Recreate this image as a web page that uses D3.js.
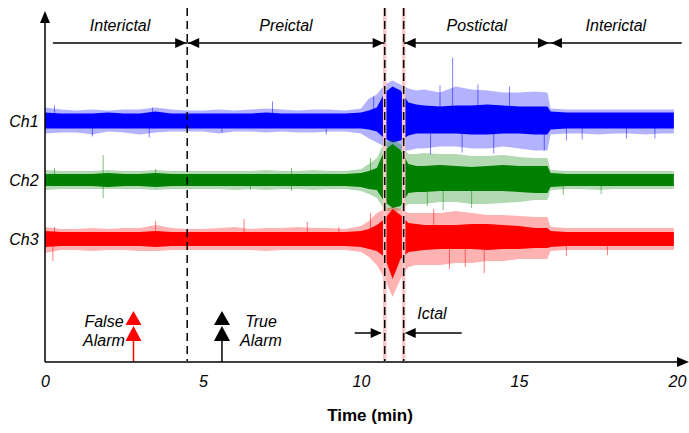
<!DOCTYPE html>
<html>
<head>
<meta charset="utf-8">
<script src="https://cdn.jsdelivr.net/npm/d3@7"></script>
<style>
  body { margin: 0; background: #fff; }
  text { font-family: "Liberation Sans", Arial, sans-serif; }
</style>
</head>
<body>
<script>
// time grid (min), finer around the seizure
var times = [0,0.5,1,1.5,2,2.5,3,3.5,4,4.5,5,5.5,6,6.5,7,7.5,8,8.5,9,9.5,10,
  10.25,10.5,10.75,11,11.25,11.5,11.75,12,
  12.5,13,13.5,14,14.5,15,15.5,15.9,
  16,16.5,17,17.5,18,18.5,19,19.5,19.9];

var channelNames = ["Ch1", "Ch2", "Ch3"];
var channelOffsets = [241.5, 182, 123];
var channelColors = ["#0000ff", "#008000", "#ff0000"];

// envelope of the dense core of each trace (amplitude above / below baseline)
var ch1Up = [8,7,7,7,8,7,7,9,7,7,7,7,7,7,8,7,7,7,7,7,8, 10,13,28,34,30,18,16,15, 14,15,15,16,15,14,14,14, 9,8,8,8,8,8,8,8,8];
var ch1Dn = [8,8,8,8,8,8,8,8,8,8,8,8,8,8,8,8,8,8,8,8,8, 9,11,18,22,20,15,13,13, 13,13,14,14,13,13,14,14, 9,8,8,8,8,8,8,8,8];
var ch2Up = [6,6,6,6,7,6,6,7,6,6,6,6,6,6,6,6,6,6,6,6,7, 9,12,30,36,30,16,14,14, 15,14,13,14,15,14,14,14, 7,6,6,6,6,6,6,6,6];
var ch2Dn = [6,6,6,6,7,6,6,7,6,6,6,6,6,6,6,6,6,6,6,6,7, 9,10,22,28,26,13,12,12, 11,11,11,11,11,12,13,13, 7,6,6,6,6,6,6,6,6];
var ch3Up = [8,7,7,7,7,7,7,8,7,7,7,7,7,7,7,7,7,7,7,7,8, 10,14,20,30,24,16,15,14, 14,14,15,15,14,13,11,11, 8,7,7,7,7,7,7,7,7];
var ch3Dn = [8,7,7,7,7,7,7,8,7,7,7,7,7,7,7,7,7,7,7,7,8, 10,12,18,40,20,13,12,11, 10,10,10,11,10,10,9,9, 8,7,7,7,7,7,7,7,7];

// envelope of the lighter outer activity
var ch1OutUp = [13,11,10,11,10,11,11,13,11,10,10,11,10,11,12,11,10,11,11,10,12, 22,26,36,40,36,32,30,31, 28,34,31,30,28,28,29,28, 12,11,11,11,11,11,11,11,11];
var ch1OutDn = [13,12,12,14,11,12,14,12,11,11,11,13,11,11,12,11,12,12,11,11,13, 18,22,26,28,30,30,28,28, 26,26,28,28,26,28,30,30, 14,13,13,14,13,13,14,13,13];
var ch2OutUp = [10,9,9,9,10,9,9,10,9,9,9,9,9,9,10,9,9,10,9,9,11, 16,22,38,40,36,26,26,27, 26,26,24,24,25,23,22,22, 10,9,9,9,9,9,9,9,9];
var ch2OutDn = [10,9,9,9,9,9,9,10,9,9,9,9,10,9,10,9,9,10,9,9,11, 14,18,30,32,30,24,24,24, 22,22,24,24,23,22,20,20, 10,9,9,10,9,9,9,9,9];
var ch3OutUp = [12,10,10,11,10,11,11,14,11,10,10,11,12,10,11,11,12,11,11,10,13, 18,26,30,32,30,26,26,26, 26,28,26,24,24,23,22,22, 12,11,11,11,11,11,11,11,11];
var ch3OutDn = [14,11,11,12,11,11,12,12,11,11,11,11,11,11,12,11,11,11,11,11,13, 18,26,40,58,40,28,26,26, 26,24,24,22,22,20,20,20, 12,11,11,11,11,11,11,11,11];

// isolated spikes (time, signed amplitude)
var ch1SpikeT = [0.3,1.5,3.3,3.4,5.6,7.2,8.9,12.9,13.7,14.7,12.2,13.2,15.8,16.5,17.0,18.4,19.3,10.4,12.5,14.2];
var ch1SpikeV = [15,-16,-17,13,-12,19,-14,63,36,34,-34,-32,-30,-20,-19,-18,-18,24,35,-33];
var ch2SpikeT = [0.3,1.84,1.84,3.5,6.5,7.8,7.8,12.6,13.5,16.4,17.6,10.3,12.1];
var ch2SpikeV = [12,25,-18,11,-10,12,-11,-30,-28,-15,-14,22,-26];
var ch3SpikeT = [0.25,0.3,3.5,6.3,8.3,9.3,12.8,13.3,13.9,16.5,17.8,10.3,12.3];
var ch3SpikeV = [-22,12,18,20,17,12,-30,-28,-34,-17,-16,26,30];

// phase boundaries (min) and labels
var phaseEdges = [0.25, 4.5, 10.75, 11.35, 15.98, 20.15];
var phaseLabels = ["Interictal", "Preictal", null, "Postictal", "Interictal"];
var dashedAt = [4.5, 10.75, 11.35];

var xTicks = [0, 5, 10, 15, 20];
var falseAlarmT = 2.8;
var trueAlarmT = 5.6;

var width = 689, height = 433;

var svg = d3.select("body").append("svg")
    .attr("width", width)
    .attr("height", height);

var x = d3.scaleLinear().domain([0, 20]).range([45, 677]);
var y = d3.scaleLinear().domain([0, 350]).range([362, 12]);

var channels = [
  { up: ch1Up, dn: ch1Dn, outUp: ch1OutUp, outDn: ch1OutDn, st: ch1SpikeT, sv: ch1SpikeV },
  { up: ch2Up, dn: ch2Dn, outUp: ch2OutUp, outDn: ch2OutDn, st: ch2SpikeT, sv: ch2SpikeV },
  { up: ch3Up, dn: ch3Dn, outUp: ch3OutUp, outDn: ch3OutDn, st: ch3SpikeT, sv: ch3SpikeV }
];

// traces
channels.forEach(function(c, k) {
  var off = channelOffsets[k];
  var g = svg.append("g");

  var outer = d3.area()
      .x(function(d, i) { return x(times[i]); })
      .y0(function(d, i) { return y(off - c.outDn[i]); })
      .y1(function(d, i) { return y(off + c.outUp[i]); });
  var core = d3.area()
      .x(function(d, i) { return x(times[i]); })
      .y0(function(d, i) { return y(off - c.dn[i]); })
      .y1(function(d, i) { return y(off + c.up[i]); });

  g.append("path").datum(times).attr("d", outer)
      .attr("fill", channelColors[k]).attr("opacity", 0.3);

  g.selectAll("line.spike")
      .data(c.st)
      .enter().append("line")
      .attr("class", "spike")
      .attr("x1", function(d) { return x(d); })
      .attr("x2", function(d) { return x(d); })
      .attr("y1", y(off))
      .attr("y2", function(d, i) { return y(off + c.sv[i]); })
      .attr("stroke", channelColors[k])
      .attr("stroke-opacity", 0.5)
      .attr("stroke-width", 1);

  g.append("path").datum(times).attr("d", core)
      .attr("fill", channelColors[k]);

  svg.append("text")
      .attr("x", 24).attr("y", y(off) + 6)
      .attr("text-anchor", "middle")
      .style("font-size", "16px").style("font-style", "italic")
      .text(channelNames[k]);
});

// phase boundary lines (ictal ones carry a light pink underlay)
dashedAt.forEach(function(t, i) {
  if (i > 0) {
    svg.append("line")
        .attr("x1", x(t)).attr("x2", x(t)).attr("y1", 8).attr("y2", 361)
        .attr("stroke", "#fac6c6").attr("stroke-width", 3.5);
  }
  svg.append("line")
      .attr("x1", x(t)).attr("x2", x(t)).attr("y1", 8).attr("y2", 361)
      .attr("stroke", "#000").attr("stroke-width", 1.5)
      .attr("stroke-dasharray", "8,5");
});

// arrowhead helper: tip at (px,py), pointing in direction dir
function head(px, py, dir, color, len, hw) {
  len = len || 11; hw = hw || 5;
  var pts;
  if (dir === "right") pts = [[px, py], [px - len, py - hw], [px - len, py + hw]];
  if (dir === "left") pts = [[px, py], [px + len, py - hw], [px + len, py + hw]];
  if (dir === "up") pts = [[px, py], [px - hw, py + len], [px + hw, py + len]];
  svg.append("path")
      .attr("d", "M" + pts.join("L") + "Z")
      .attr("fill", color);
}

// phase arrows along the top
var arrowY = 43;
phaseLabels.forEach(function(lbl, i) {
  if (lbl === null) return;
  var a = x(phaseEdges[i]), b = x(phaseEdges[i + 1]);
  svg.append("line")
      .attr("x1", a).attr("x2", b).attr("y1", arrowY).attr("y2", arrowY)
      .attr("stroke", "#000").attr("stroke-width", 1.5);
  if (i > 0) head(a + 1, arrowY, "left", "#000");
  if (i < phaseLabels.length - 1) head(b - 1, arrowY, "right", "#000");
  svg.append("text")
      .attr("x", (a + b) / 2).attr("y", 31)
      .attr("text-anchor", "middle")
      .style("font-size", "16px").style("font-style", "italic")
      .text(lbl);
});

// ictal marker
var ictalY = 333;
svg.append("line").attr("x1", x(10.75) - 30).attr("x2", x(10.75) - 4)
    .attr("y1", ictalY).attr("y2", ictalY).attr("stroke", "#000").attr("stroke-width", 1.5);
head(x(10.75) - 3, ictalY, "right", "#000");
svg.append("line").attr("x1", x(11.35) + 4).attr("x2", x(11.35) + 58)
    .attr("y1", ictalY).attr("y2", ictalY).attr("stroke", "#000").attr("stroke-width", 1.5);
head(x(11.35) + 1, ictalY, "left", "#000");
svg.append("text")
    .attr("x", 432).attr("y", 319)
    .attr("text-anchor", "middle")
    .style("font-size", "16px").style("font-style", "italic")
    .text("Ictal");

// alarms
function alarm(t, color, words, tx) {
  var px = x(t);
  svg.append("line").attr("x1", px).attr("x2", px).attr("y1", 362).attr("y2", 330)
      .attr("stroke", color).attr("stroke-width", 1.5);
  head(px, 311, "up", color, 14, 8);
  head(px, 326, "up", color, 15, 8);
  svg.append("text").attr("x", tx).attr("y", 327).attr("text-anchor", "middle")
      .style("font-size", "16px").style("font-style", "italic").text(words[0]);
  svg.append("text").attr("x", tx).attr("y", 346).attr("text-anchor", "middle")
      .style("font-size", "16px").style("font-style", "italic").text(words[1]);
}
alarm(falseAlarmT, "#ff0000", ["False", "Alarm"], 104);
alarm(trueAlarmT, "#000", ["True", "Alarm"], 261);

// axes
svg.append("line").attr("x1", 45).attr("x2", 45).attr("y1", 362).attr("y2", 20)
    .attr("stroke", "#000").attr("stroke-width", 1.5);
head(45, 11, "up", "#000", 12, 5);
svg.append("line").attr("x1", 45).attr("x2", 680).attr("y1", 362).attr("y2", 362)
    .attr("stroke", "#000").attr("stroke-width", 1.5);
head(689, 362, "right", "#000", 12, 5);

var xAxis = svg.append("g")
    .attr("transform", "translate(0,362)")
    .call(d3.axisBottom(x).tickValues(xTicks).tickSize(0).tickPadding(14));
xAxis.select(".domain").remove();
xAxis.selectAll("text")
    .style("font-family", "'Liberation Sans', Arial, sans-serif")
    .style("font-size", "16px").style("font-style", "italic").attr("fill", "#000");

svg.append("text")
    .attr("x", 370).attr("y", 421)
    .attr("text-anchor", "middle")
    .style("font-size", "17px").style("font-weight", "bold")
    .text("Time (min)");
</script>
</body>
</html>
